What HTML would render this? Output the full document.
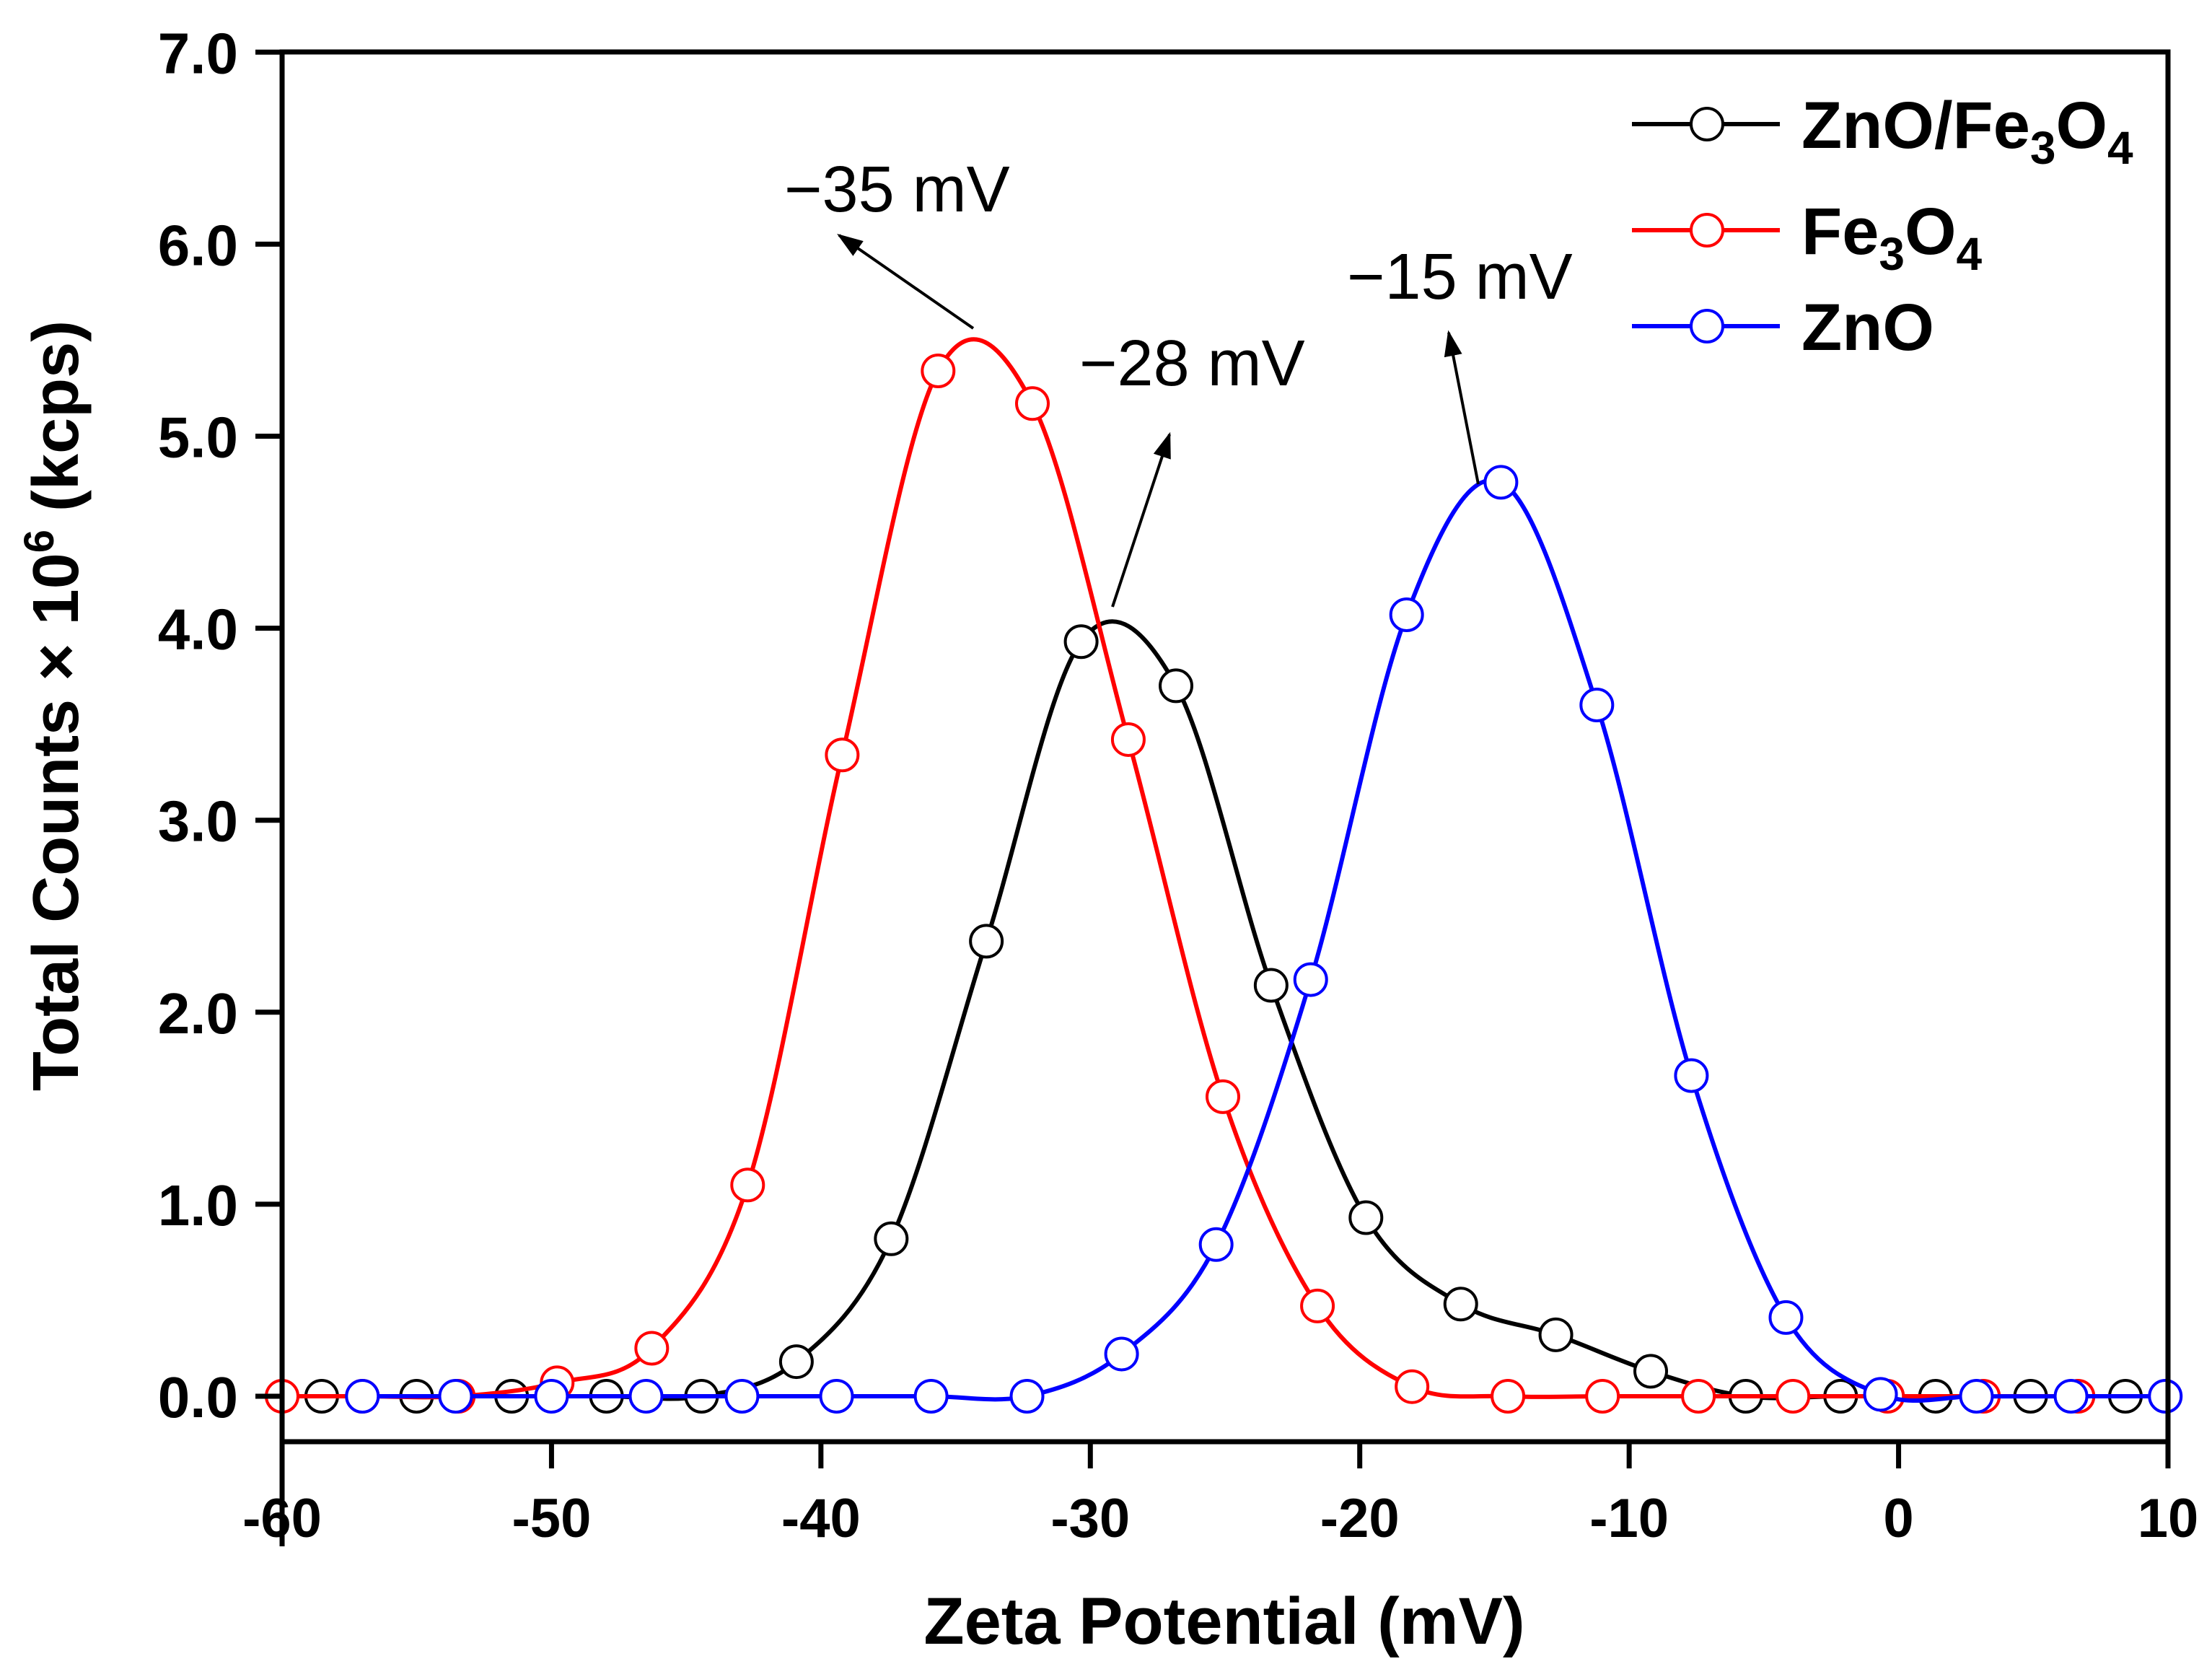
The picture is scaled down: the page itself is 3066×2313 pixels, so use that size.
<!DOCTYPE html>
<html><head><meta charset="utf-8"><style>
html,body{margin:0;padding:0;background:#fff}
svg{display:block}
text{font-family:"Liberation Sans",Arial,sans-serif}
</style></head><body>
<svg id="chart" width="3066" height="2313" viewBox="0 0 3066 2313" xmlns="http://www.w3.org/2000/svg">
<defs><marker id="ah" viewBox="0 0 10 10" refX="9" refY="5" markerWidth="9" markerHeight="9" orient="auto"><path d="M0,1.5 L10,5 L0,8.5 z" fill="#000"/></marker></defs>
<g id="plot"></g>
<g id="axes"></g>
<text x="1697" y="2278" font-size="92" font-weight="bold" text-anchor="middle">Zeta Potential (mV)</text>
<text transform="translate(108,978) rotate(-90)" font-size="90" font-weight="bold" text-anchor="middle">Total Counts × 10<tspan dy="-34" font-size="58">6</tspan><tspan dy="34"> (kcps)</tspan></text>
<g>
 <g><line x1="2262" y1="172" x2="2467" y2="172" stroke="#000" stroke-width="6"/><circle cx="2366" cy="172" r="22" fill="#fff" stroke="#000" stroke-width="4"/><text x="2497" y="205" font-size="92" font-weight="bold">ZnO/Fe<tspan dy="22" font-size="64">3</tspan><tspan dy="-22">O</tspan><tspan dy="22" font-size="64">4</tspan></text></g>
 <g><line x1="2262" y1="319" x2="2467" y2="319" stroke="#f00" stroke-width="6"/><circle cx="2366" cy="319" r="22" fill="#fff" stroke="#f00" stroke-width="4"/><text x="2497" y="352" font-size="92" font-weight="bold">Fe<tspan dy="22" font-size="64">3</tspan><tspan dy="-22">O</tspan><tspan dy="22" font-size="64">4</tspan></text></g>
 <g><line x1="2262" y1="452" x2="2467" y2="452" stroke="#00f" stroke-width="6"/><circle cx="2366" cy="452" r="22" fill="#fff" stroke="#00f" stroke-width="4"/><text x="2497" y="485" font-size="92" font-weight="bold">ZnO</text></g>
</g>
<g>
 <text x="1087" y="293" font-size="90">−35 mV</text>
 <line x1="1349" y1="455" x2="1163" y2="326" stroke="#000" stroke-width="4" marker-end="url(#ah)"/>
 <text x="1496" y="534" font-size="90">−28 mV</text>
 <line x1="1542" y1="841" x2="1621" y2="602" stroke="#000" stroke-width="4" marker-end="url(#ah)"/>
 <text x="1867" y="414" font-size="90">−15 mV</text>
 <line x1="2049" y1="671" x2="2008" y2="461" stroke="#000" stroke-width="4" marker-end="url(#ah)"/>
</g>
</svg>
<script>
const xTicks = [-60,-50,-40,-30,-20,-10,0,10];
const yTicks = [0,1,2,3,4,5,6,7];
const blackX = [-58.53,-55.01,-51.48,-47.96,-44.43,-40.91,-37.39,-33.86,-30.34,-26.82,-23.29,-19.77,-16.25,-12.72,-9.20,-5.67,-2.15,1.37,4.90,8.42];
const blackY = [0,0,0,0,0,0.18,0.82,2.37,3.93,3.70,2.14,0.93,0.48,0.32,0.13,0,0,0,0,0];
const redX = [-60,-57.02,-53.46,-49.79,-46.28,-42.72,-39.21,-35.65,-32.15,-28.59,-25.08,-21.57,-18.06,-14.50,-10.99,-7.43,-3.92,-0.41,3.15,6.66];
const redY = [0,0,0,0.07,0.25,1.10,3.34,5.34,5.17,3.42,1.56,0.47,0.05,0,0,0,0,0,0,0];
const blueX = [-57.02,-53.56,-50.0,-46.49,-42.93,-39.42,-35.91,-32.35,-28.84,-25.33,-21.82,-18.26,-14.76,-11.20,-7.69,-4.18,-0.67,2.89,6.40,9.90];
const blueY = [0,0,0,0,0,0,0,0,0.22,0.79,2.17,4.07,4.76,3.60,1.67,0.41,0.01,0,0,0];

const X0=391, X1=3005, XMIN=-60, XMAX=10;
const Y0=1935, YU=266.1;
const xs = v => X0 + (v - XMIN) / (XMAX - XMIN) * (X1 - X0);
const ys = v => Y0 - v * YU;
const NS="http://www.w3.org/2000/svg";
const plot=document.getElementById('plot'), axes=document.getElementById('axes');
function mk(tag, attrs, parent){const e=document.createElementNS(NS,tag);for(const k in attrs)e.setAttribute(k,attrs[k]);parent.appendChild(e);return e;}

let ax = mk('path',{d:`M${X0},2143 L${X0},72 L${X1},72 L${X1},1998 M${X0},1998 L${X1},1998`,fill:'none',stroke:'#000','stroke-width':7},axes);


xTicks.forEach(t=>{
  const x=xs(t);
  const l=mk('line',{x1:x,y1:1998,x2:x,y2:2035,stroke:'#000','stroke-width':7},axes);
  
  
  const tx=mk('text',{x:x,y:2130,'font-size':76,'font-weight':'bold','text-anchor':'middle'},axes);
  tx.textContent=String(t);
  
  
});
yTicks.forEach(t=>{
  const y=ys(t);
  const l=mk('line',{x1:354,y1:y,x2:X0,y2:y,stroke:'#000','stroke-width':7},axes);
  
  
  const tx=mk('text',{x:330,y:y+29,'font-size':80,'font-weight':'bold','text-anchor':'end'},axes);
  tx.textContent=t.toFixed(1);
  
  
});

function spline(px,py){
  const P=px.map((v,i)=>[xs(v),ys(py[i])]);
  let d=`M${P[0][0]},${P[0][1]}`;
  for(let i=0;i<P.length-1;i++){
    const p0=P[Math.max(i-1,0)],p1=P[i],p2=P[i+1],p3=P[Math.min(i+2,P.length-1)];
    const c1=[p1[0]+(p2[0]-p0[0])/6,p1[1]+(p2[1]-p0[1])/6];
    const c2=[p2[0]-(p3[0]-p1[0])/6,p2[1]-(p3[1]-p1[1])/6];
    d+=` C${c1[0]},${c1[1]} ${c2[0]},${c2[1]} ${p2[0]},${p2[1]}`;
  }
  return d;
}
function series(name,px,py,color){
  const g=mk('g',{},plot);
  
  
  const p=mk('path',{d:spline(px,py),fill:'none',stroke:color,'stroke-width':6},g);
  
  
  px.forEach((v,i)=>{
    const c=mk('circle',{cx:xs(v),cy:ys(py[i]),r:22,fill:'#fff',stroke:color,'stroke-width':4},g);
    
    
  });
}
series('zno-fe3o4',blackX,blackY,'#000');
series('fe3o4',redX,redY,'#f00');
series('zno',blueX,blueY,'#00f');
</script>
</body></html>
